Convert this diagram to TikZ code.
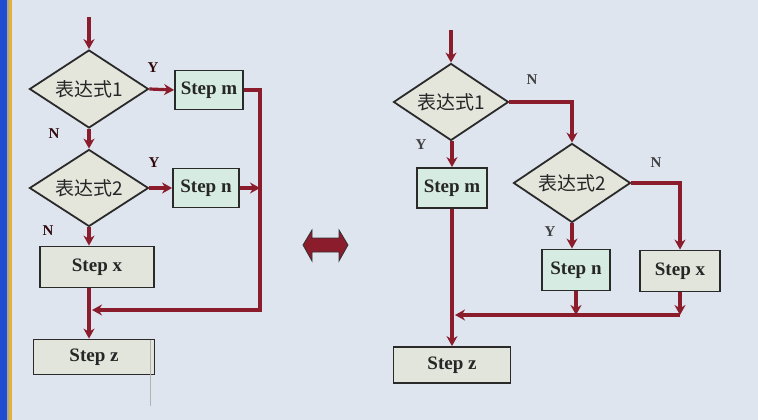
\documentclass[tikz,border=0pt]{standalone}
\usepackage{fontspec}
\setmainfont{Liberation Serif}
\newfontfamily\cjk{Noto Sans CJK SC}
\usetikzlibrary{shapes.geometric,arrows.meta}
\definecolor{bgc}{HTML}{DFE5EF}
\definecolor{maroon}{HTML}{8A1C2C}
\definecolor{diafill}{HTML}{E4E6DC}
\definecolor{greenbox}{HTML}{D6EBE2}
\definecolor{greybox}{HTML}{E2E5DC}
\definecolor{edgec}{HTML}{2A2A2A}
\definecolor{stripblue}{HTML}{1F4FD0}
\definecolor{stripyellow}{HTML}{E6B032}
\tikzset{
  dia/.style={diamond, draw=edgec, line width=1.8pt, fill=diafill, aspect=1.55, inner sep=0pt,
    font=\cjk\fontsize{19}{21}\selectfont, text=black!85},
  stepbox/.style={rectangle, draw=edgec, line width=1.8pt, inner sep=0pt,
    font=\bfseries\fontsize{19}{21}\selectfont, text=black!85},
  flow/.style={draw=maroon, line width=3.2pt},
  arr/.style={flow, -{Stealth[length=10pt,width=11pt]}},
  yn/.style={font=\bfseries\fontsize{15}{17}\selectfont, text=black!65!maroon}
}
\begin{document}
\begin{tikzpicture}[x=1pt,y=-1pt]
\fill[bgc] (0,0) rectangle (758,420);
\useasboundingbox (0,0) rectangle (758,420);
\fill[stripblue] (0,0) rectangle (6.5,420);
\fill[gray!70] (6.5,0) rectangle (9,420);
\fill[stripyellow] (9,0) rectangle (12,420);

% ---------- left diagram ----------
\node[dia, minimum width=119pt, minimum height=78pt] (d1) at (89,89) {表达式1};
\node[stepbox, fill=greenbox, minimum width=68pt, minimum height=39pt] (sm) at (209,90) {Step m};
\node[dia, minimum width=119pt, minimum height=77pt] (d2) at (89,188) {表达式2};
\node[stepbox, fill=greenbox, minimum width=66pt, minimum height=39pt] (sn) at (206,188) {Step n};
\node[stepbox, fill=greybox, minimum width=114pt, minimum height=41pt] (sx) at (97,267) {Step x};
\node[stepbox, fill=greybox, minimum width=121pt, minimum height=35pt] (sz) at (94,357) {Step z};
\coordinate (in1) at (89,17);
\coordinate (c1) at (260,310);

\draw[arr] (in1) -- (d1.north);
\draw[arr] (d1.east) -- (sm.west);
\draw[arr] (d1.south) -- (d2.north);
\draw[arr] (d2.east) -- (sn.west);
\draw[arr] (d2.south) -- (d2.south |- sx.north);
\draw[arr] (sx.south -| d2.south) -- (sz.north -| d2.south);
\draw[arr] (sm.east) -| (c1) -- ([xshift=3pt]c1 -| d2.south);
\draw[arr] (sn.east) -- (sn.east -| c1);
\draw[gray!60, line width=0.6pt] (150,340) -- (150,406);

\node[yn] (y1) at (153,68) {Y};
\node[yn] (n1) at (54,134) {N};
\node[yn] (y2) at (154,163) {Y};
\node[yn] (n2) at (48,231) {N};

% ---------- double arrow ----------
\filldraw[fill=maroon, draw=black!80, line width=0.8pt]
  (303,245) -- (312,230) -- (312,238) -- (339,238) -- (339,230) -- (348,245)
  -- (339,261) -- (339,252) -- (312,252) -- (312,261) -- cycle;

% ---------- right diagram ----------
\node[dia, minimum width=115pt, minimum height=77pt] (D1) at (451,102) {表达式1};
\node[stepbox, fill=greenbox, minimum width=70pt, minimum height=40pt] (SM) at (452,188) {Step m};
\node[dia, minimum width=117pt, minimum height=79pt] (D2) at (572,183) {表达式2};
\node[stepbox, fill=greenbox, minimum width=68pt, minimum height=41pt] (SN) at (576,270) {Step n};
\node[stepbox, fill=greybox, minimum width=80pt, minimum height=41pt] (SX) at (680,271) {Step x};
\node[stepbox, fill=greybox, minimum width=117pt, minimum height=36pt] (SZ) at (452,365) {Step z};
\coordinate (in2) at (451,30);
\coordinate (j2) at (576,315);

\draw[arr] (in2) -- (D1.north);
\draw[arr] (D1.east) -| (D2.north);
\draw[arr] (D1.south -| SM.north) -- (SM.north);
\draw[arr] (D2.east) -| (SX.north);
\draw[arr] (D2.south) -- (D2.south |- SN.north);
\draw[arr] (SN.south) -- (j2);
\draw[arr] (SX.south) -- (SX.south |- j2);
\draw[arr] (SX.south |- j2) -- ([xshift=3pt]j2 -| SM.south);
\draw[arr] (SM.south) -- (SM.south |- SZ.north);

\node[yn, text=black!75] (N1) at (532,80) {N};
\node[yn, text=black!75] (Y1) at (421,145) {Y};
\node[yn, text=black!75] (N2) at (656,163) {N};
\node[yn, text=black!75] (Y2) at (550,232) {Y};
\end{tikzpicture}
\end{document}
